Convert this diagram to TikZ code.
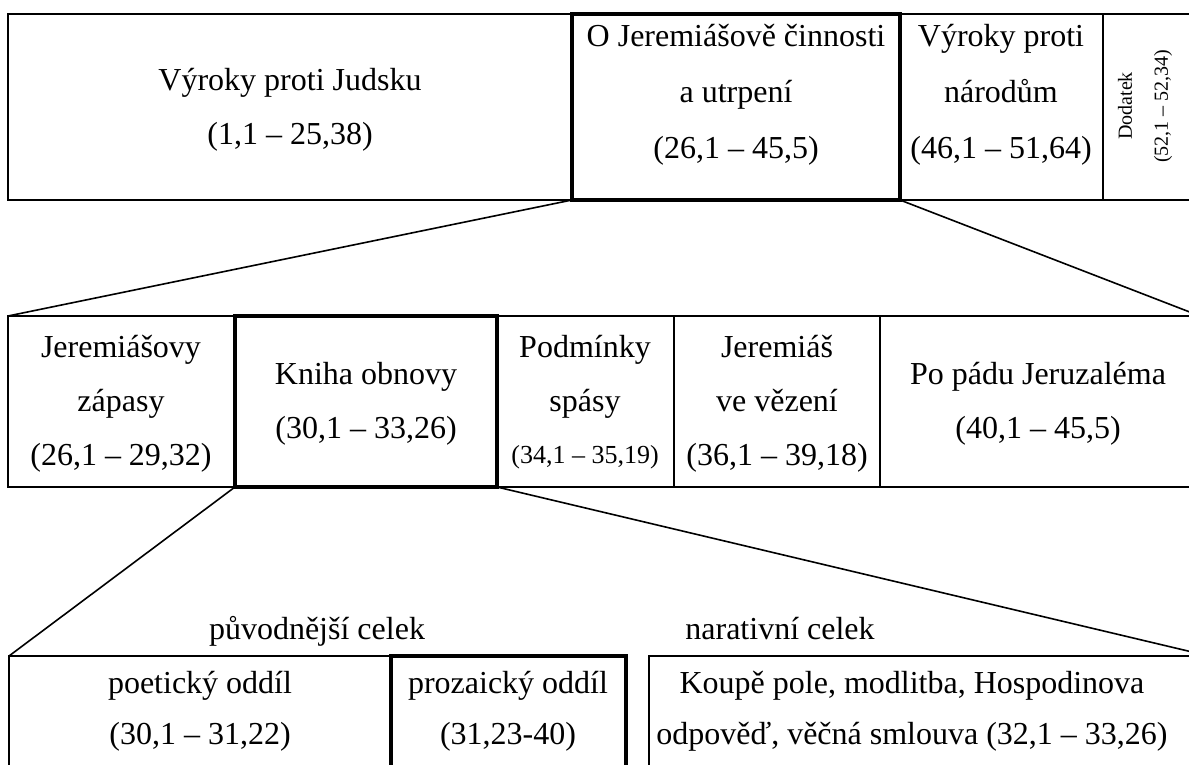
\documentclass[tikz,border=0pt]{standalone}
\usepackage{fontspec}
\setmainfont{Liberation Serif}
\begin{document}
\begin{tikzpicture}[x=1pt,y=-1pt,
  cell/.style={draw, line width=1.6pt, rectangle, inner sep=0pt, outer sep=0pt, anchor=north west},
  hcell/.style={cell, line width=3.6pt},
  txt/.style={font=\fontsize{32}{38}\selectfont, inner sep=0pt, anchor=base},
  smalltxt/.style={font=\fontsize{26}{30}\selectfont, inner sep=0pt, anchor=base},
  rottxt/.style={font=\fontsize{20}{24}\selectfont, inner sep=0pt, anchor=center, rotate=90},
  conn/.style={line width=1.6pt}]
\useasboundingbox (0,0) rectangle (1189,765);
\clip (0,0) rectangle (1189,765);
% row 1
\node[cell, minimum width=564, minimum height=186] (judsku) at (8,14) {};
\node[cell, minimum width=203, minimum height=186] (narody) at (900,14) {};
\node[cell, minimum width=120, minimum height=186] (dodatek) at (1103,14) {};
\node[hcell, minimum width=328, minimum height=186] (jer) at (572,14) {};
% row 2
\node[cell, minimum width=227, minimum height=171] (zapasy) at (8,316) {};
\node[cell, minimum width=177, minimum height=171] (spasy) at (497,316) {};
\node[cell, minimum width=206, minimum height=171] (vezeni) at (674,316) {};
\node[cell, minimum width=320, minimum height=171] (padu) at (880,316) {};
\node[hcell, minimum width=262, minimum height=171] (kniha) at (235,316) {};
% row 3
\node[cell, minimum width=382, minimum height=140] (poet) at (9,656) {};
\node[cell, minimum width=560, minimum height=140] (nar) at (649,656) {};
\node[hcell, minimum width=235, minimum height=140] (proz) at (391,656) {};
% connectors
\draw[conn] (jer.south west) -- (zapasy.north west);
\draw[conn] (jer.south east) -- (padu.north east);
\draw[conn] (kniha.south west) -- (poet.north west);
\draw[conn] (kniha.south east) -- (nar.north east);
% row 1 texts
\node[txt] (ta1) at (290,91) {Výroky proti Judsku};
\node[txt] (ta2) at (290,145) {(1,1 – 25,38)};
\node[txt] (tb1) at (736,47) {O Jeremiášově činnosti};
\node[txt] (tb2) at (736,103) {a utrpení};
\node[txt] (tb3) at (736,159) {(26,1 – 45,5)};
\node[txt] (tc1) at (1001,47) {Výroky proti};
\node[txt] (tc2) at (1001,103) {národům};
\node[txt] (tc3) at (1001,159) {(46,1 – 51,64)};
\node[rottxt] (td1) at (1125,106) {Dodatek};
\node[rottxt] (td2) at (1163,106) {(52,1 – 52,34)};
% row 2 texts
\node[txt] (te1) at (121,357) {Jeremiášovy};
\node[txt] (te2) at (121,411) {zápasy};
\node[txt] (te3) at (121,465) {(26,1 – 29,32)};
\node[txt] (tf1) at (366,384) {Kniha obnovy};
\node[txt] (tf2) at (366,438) {(30,1 – 33,26)};
\node[txt] (tg1) at (585,357) {Podmínky};
\node[txt] (tg2) at (585,411) {spásy};
\node[smalltxt] (tg3) at (585,463) {(34,1 – 35,19)};
\node[txt] (th1) at (777,357) {Jeremiáš};
\node[txt] (th2) at (777,411) {ve vězení};
\node[txt] (th3) at (777,465) {(36,1 – 39,18)};
\node[txt] (ti1) at (1038,384) {Po pádu Jeruzaléma};
\node[txt] (ti2) at (1038,438) {(40,1 – 45,5)};
% row 3 texts
\node[txt] (tj) at (317,639) {původnější celek};
\node[txt] (tk) at (780,639) {narativní celek};
\node[txt] (tl1) at (200,693) {poetický oddíl};
\node[txt] (tl2) at (200,744) {(30,1 – 31,22)};
\node[txt] (tm1) at (508,693) {prozaický oddíl};
\node[txt] (tm2) at (508,744) {(31,23-40)};
\node[txt] (tn1) at (912,693) {Koupě pole, modlitba, Hospodinova};
\node[txt] (tn2) at (912,744) {odpověď, věčná smlouva (32,1 – 33,26)};
\end{tikzpicture}
\end{document}
